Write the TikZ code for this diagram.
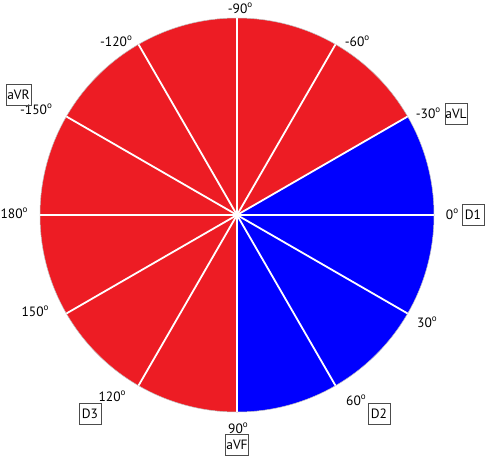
\documentclass[tikz,border=0pt]{standalone}
\usepackage{fontspec}
\setmainfont{PT Sans}
\definecolor{sred}{RGB}{237,28,36}
\definecolor{sblue}{RGB}{0,0,255}
\begin{document}
\begin{tikzpicture}[x=1pt,y=-1pt,
  lab/.style={font=\fontsize{13.5}{13.5}\selectfont, inner sep=0pt},
  lead/.style={draw=black!70, line width=0.8pt, font=\fontsize{13.5}{13.5}\selectfont, inner sep=0pt, minimum width=22pt, minimum height=21pt},
  sep/.style={white, line width=1.8pt}]
\useasboundingbox (0,0) rectangle (485,458);
\coordinate (c) at (237,215);
\def\R{197}
% sectors
\foreach \a/\col in {-180/sred,-150/sred,-120/sred,-90/sred,-60/sred,-30/sblue,0/sblue,30/sblue,60/sblue,90/sred,120/sred,150/sred}{
  \fill[\col] (c) -- ++(\a:\R) arc[start angle=\a, end angle=\a+30, radius=\R] -- cycle;
}
\draw[black!25, line width=0.5pt] (c) circle[radius=\R];
\foreach \a in {0,30,...,330}{
  \draw[sep] (c) -- ++(\a:\R);
}
% angle labels
\newcommand{\dg}{\raisebox{0.45em}{\fontsize{9}{9}\selectfont o}}
\node[lab] (m90) at (240,8) {-90\dg};
\node[lab] (m60) at (357,41) {-60\dg};
\node[lab] (m30) at (428,113) {-30\dg};
\node[lab] (p0) at (452,214) {0\dg};
\node[lab] (p30) at (427,322) {30\dg};
\node[lab] (p60) at (356,400) {60\dg};
\node[lab] (p90) at (238,428) {90\dg};
\node[lab] (p120) at (112,396) {120\dg};
\node[lab] (p150) at (35,311) {150\dg};
\node[lab] (p180) at (14,213) {180\dg};
\node[lab] (m150) at (36,109) {-150\dg};
\node[lab] (m120) at (116,41) {-120\dg};
% lead boxes
\node[lead] (avl) at (456,113.5) {aVL};
\node[lead] (d1) at (473,215) {D1};
\node[lead] (d2) at (379,413.5) {D2};
\node[lead, minimum width=23pt] (avf) at (237,444.5) {aVF};
\node[lead] (d3) at (90,414) {D3};
\node[lead, minimum width=25pt] (avr) at (18.5,95) {aVR};
\end{tikzpicture}
\end{document}
